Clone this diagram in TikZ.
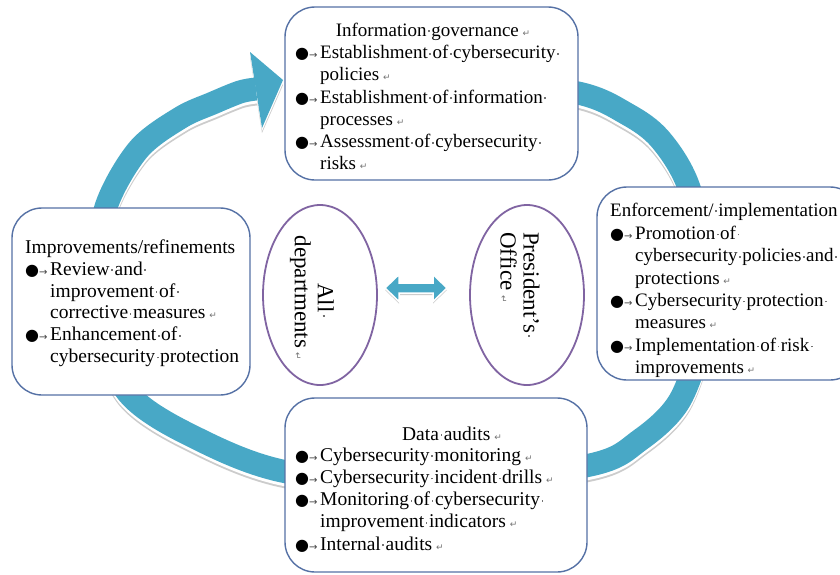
\documentclass[tikz,border=0pt]{standalone}
\usepackage{fontspec}
\setmainfont{Liberation Serif}
\newfontfamily\symf{DejaVu Sans}
\usetikzlibrary{shapes.geometric}
\definecolor{ringblue}{RGB}{72,168,198}
\definecolor{boxblue}{RGB}{85,113,165}
\definecolor{ellpurple}{RGB}{128,100,162}
\newcommand\dt{\rlap{\hbox to .25em{\hss\raisebox{.45ex}{\textcolor{black!55}{\rule{.09em}{.09em}}}\hss}}\space}
\newcommand\ret{\hspace{.2em}{\symf\fontsize{9}{9}\selectfont\textcolor{black!55}{↵}}}
\newcommand\bul{\makebox[25pt][l]{{\symf\fontsize{16}{16}\selectfont ●}{\symf\fontsize{10}{10}\selectfont\textcolor{black!75}{→}}}}
\newcommand\ind{\hspace*{25pt}}
\newcommand\fA{\fontsize{19}{22.2}\selectfont}
\newcommand\fB{\fontsize{19}{22.4}\selectfont}
\newcommand\fC{\fontsize{19.5}{21.8}\selectfont}
\newcommand\fD{\fontsize{19.5}{22.2}\selectfont}
\newcommand\fE{\fontsize{23}{23}\selectfont}
\begin{document}
\begin{tikzpicture}[x=1pt,y=-1pt,
  box/.style={draw=boxblue, line width=1.4pt, fill=white, rounded corners=30pt, inner sep=0pt},
  ell/.style={draw=ellpurple, line width=1.8pt, fill=white, ellipse, inner sep=0pt},
  txt/.style={inner sep=0pt, align=left, text=black},
  ringline/.style={line width=23pt, line join=round}]
\fill[white] (0,0) rectangle (840,574);
\useasboundingbox (0,0) rectangle (840,574);
% circular arrow with reflection
\foreach \dy/\c in {5/black!20, 3/white, 0/ringblue}{
  \draw[ringline, draw=\c, yshift=-\dy pt] plot[smooth, tension=0.55] coordinates {(470,80) (578,93) (627,114) (660,139) (688,185) (705,260) (703,330) (680,400) (640,440) (590,465) (440,483) (287,472) (190,435) (128,393) (103,330) (99,270) (106,207) (138,150) (180,118) (213,103) (240,92) (256,89)};
  \fill[\c, yshift=-\dy pt] (250,52) -- (283,80) -- (262,128) -- cycle;
}
% boxes
\node[box, minimum width=293pt, minimum height=173pt] (top) at (431.5,93.5) {};
\node[box, minimum width=263pt, minimum height=193pt] (right) at (728.5,283.5) {};
\node[box, minimum width=238pt, minimum height=187pt] (left) at (131,301.5) {};
\node[box, minimum width=302pt, minimum height=174pt] (bottom) at (436,485) {};
% ellipses
\node[ell, minimum width=114pt, minimum height=180pt] (le) at (320,295) {};
\node[ell, minimum width=114pt, minimum height=180pt] (re) at (527,295) {};
% double arrow
\fill[black!20, yshift=-2pt] (385,288) -- (399,274.5) -- (399,283) -- (433,283) -- (433,274.5) -- (447,288) -- (433,301.5) -- (433,293) -- (399,293) -- (399,301.5) -- cycle;
\filldraw[fill=ringblue, draw=white, line width=1.5pt] (385,288) -- (399,274.5) -- (399,283) -- (433,283) -- (433,274.5) -- (447,288) -- (433,301.5) -- (433,293) -- (399,293) -- (399,301.5) -- cycle;
% top box text
\node[txt, anchor=base, font=\fA] (tt) at (433,36) {Information\dt governance\ret};
\node[txt, anchor=north west, font=\fA] (tb) at (295,42.96) {\strut\bul Establishment\dt of\dt cybersecurity\dt\\
\ind policies\ret\\
\bul Establishment\dt of\dt information\dt\\
\ind processes\ret\\
\bul Assessment\dt of\dt cybersecurity\dt\\
\ind risks\ret};
% right box text
\node[txt, anchor=base west, font=\fB] (rt) at (610,216) {Enforcement/\dt implementation};
\node[txt, anchor=north west, font=\fB] (rb) at (610,223.32) {\strut\bul Promotion\dt of\dt\\
\ind cybersecurity\dt policies\dt and\dt\\
\ind protections\ret\\
\bul Cybersecurity\dt protection\dt\\
\ind measures\ret\\
\bul Implementation\dt of\dt risk\dt\\
\ind improvements\ret};
% left box text
\node[txt, anchor=base west, font=\fC] (lt) at (25,253) {Improvements/refinements};
\node[txt, anchor=north west, font=\fC] (lb) at (25,259.74) {\strut\bul Review\dt and\dt\\
\ind improvement\dt of\dt\\
\ind corrective\dt measures\ret\\
\bul Enhancement\dt of\dt\\
\ind cybersecurity\dt protection};
% bottom box text
\node[txt, anchor=base, font=\fD] (bt) at (452,440) {Data\dt audits\ret};
\node[txt, anchor=north west, font=\fD] (bb) at (295,445.46) {\strut\bul Cybersecurity\dt monitoring\ret\\
\bul Cybersecurity\dt incident\dt drills\ret\\
\bul Monitoring\dt of\dt cybersecurity\dt\\
\ind improvement\dt indicators\ret\\
\bul Internal\dt audits\ret};
% ellipse texts
\node[txt, align=center, rotate=-90, font=\fE] (let) at (312,298) {All\dt\\departments\ret};
\node[txt, align=left, rotate=-90, anchor=west, font=\fE] (ret) at (520,232) {President’s\dt\\Office\ret};
\end{tikzpicture}
\end{document}
